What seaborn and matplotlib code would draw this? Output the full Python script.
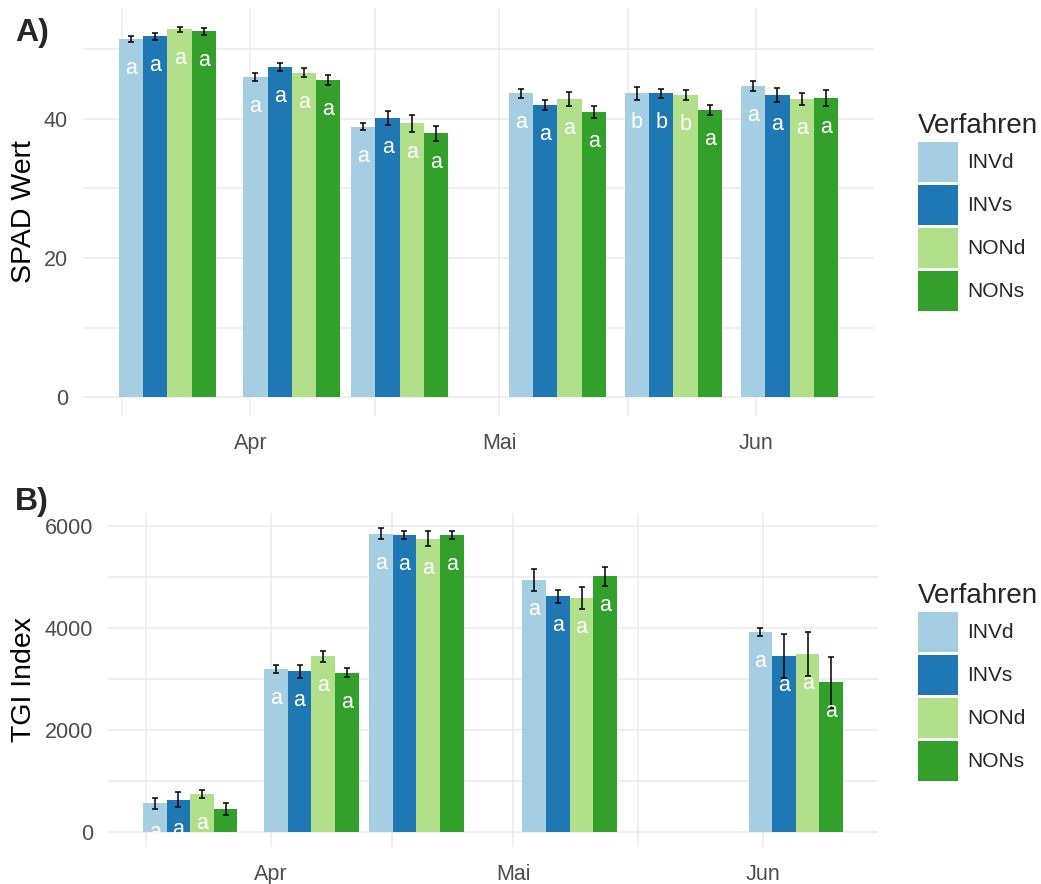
import matplotlib
matplotlib.use("Agg")
import matplotlib.pyplot as plt
import matplotlib.dates as mdates
import numpy as np
import pandas as pd
import seaborn as sns

# Verfahren und Farben (Paired)
verfahren = ["INVd", "INVs", "NONd", "NONs"]
farben = ["#A6CEE3", "#1F78B4", "#B2DF8A", "#33A02C"]

# A) SPAD Werte
spad_datum = ["2017-03-22", "2017-04-06", "2017-04-19", "2017-05-08", "2017-05-22", "2017-06-05"]
spad_INVd = [51.4, 46.0, 38.8, 43.6, 43.6, 44.7]
spad_INVs = [51.8, 47.4, 40.1, 42.0, 43.6, 43.4]
spad_NONd = [52.8, 46.6, 39.3, 42.8, 43.4, 42.8]
spad_NONs = [52.5, 45.5, 37.9, 40.9, 41.2, 43.0]
spad_se_INVd = [0.4, 0.6, 0.5, 0.7, 1.0, 0.7]
spad_se_INVs = [0.5, 0.55, 1.0, 0.7, 0.6, 1.0]
spad_se_NONd = [0.4, 0.7, 1.2, 1.0, 0.7, 0.8]
spad_se_NONs = [0.55, 0.75, 1.1, 0.85, 0.75, 1.15]
spad_bst_INVd = ["a", "a", "a", "a", "b", "a"]
spad_bst_INVs = ["a", "a", "a", "a", "b", "a"]
spad_bst_NONd = ["a", "a", "a", "a", "b", "a"]
spad_bst_NONs = ["a", "a", "a", "a", "a", "a"]

# B) TGI Index
tgi_datum = ["2017-03-22", "2017-04-06", "2017-04-19", "2017-05-08", "2017-06-05"]
tgi_INVd = [557, 3187, 5843, 4934, 3913]
tgi_INVs = [628, 3148, 5817, 4613, 3443]
tgi_NONd = [740, 3443, 5745, 4581, 3482]
tgi_NONs = [445, 3115, 5817, 5005, 2932]
tgi_se_INVd = [108, 78, 108, 209, 78]
tgi_se_INVs = [147, 131, 78, 121, 432]
tgi_se_NONd = [75, 108, 147, 222, 425]
tgi_se_NONs = [111, 88, 75, 193, 500]
tgi_bst_INVd = ["a", "a", "a", "a", "a"]
tgi_bst_INVs = ["a", "a", "a", "a", "a"]
tgi_bst_NONd = ["a", "a", "a", "a", "a"]
tgi_bst_NONs = ["a", "a", "a", "a", "a"]

# Monatsachse
monat_grenzen = ["2017-03-01", "2017-04-01", "2017-05-01", "2017-06-01", "2017-07-01"]
monate = ["Mär", "Apr", "Mai", "Jun", "Jul"]

sns.set_style("white")
plt.rcParams["font.family"] = ["Liberation Sans", "DejaVu Sans"]

GRID = "#EBEBEB"
TICK = "#4D4D4D"


def panel(ax, datum, werte, se, bst, ylabel, yticks, yminor, label_x):
    x = mdates.date2num(pd.to_datetime(datum))
    df = pd.DataFrame({
        "Datum": np.tile(x, len(verfahren)),
        "Verfahren": np.repeat(verfahren, len(x)),
        "Wert": np.concatenate([werte[v] for v in verfahren]),
    })
    sns.barplot(data=df, x="Datum", y="Wert", hue="Verfahren", hue_order=verfahren,
                palette=farben, native_scale=True, width=0.9, errorbar=None,
                saturation=1, linewidth=0, ax=ax)

    bar_conts = list(ax.containers)
    for v, cont in zip(verfahren, bar_conts):
        bars = sorted(cont.patches, key=lambda b: b.get_x())
        xs = [b.get_x() + b.get_width() / 2 for b in bars]
        hs = [b.get_height() for b in bars]
        ax.errorbar(xs, hs, yerr=se[v], fmt="none", ecolor="black",
                    elinewidth=1.1, capsize=2.4, capthick=1.1, zorder=3)
        for xx, hh, t in zip(xs, hs, bst[v]):
            ax.annotate(t, (xx, hh), xytext=(0, -35), textcoords="offset pixels",
                        ha="center", va="baseline", color="white", fontsize=15.5, zorder=4)

    g = mdates.date2num(pd.to_datetime(monat_grenzen))
    ax.set_xticks(g, monate)
    ax.set_xticks((g[:-1] + g[1:]) / 2, minor=True)
    ax.set_yticks(yticks)
    ax.set_yticks(yminor, minor=True)

    # Grenzen wie ggplot (5% Erweiterung), nach den Ticks setzen
    res = np.min(np.diff(x))
    lo, hi = x.min() - 0.45 * res, x.max() + 0.45 * res
    ax.set_xlim(lo - 0.05 * (hi - lo), hi + 0.05 * (hi - lo))
    top = max(max(np.add(werte[v], se[v])) for v in verfahren)
    ax.set_ylim(-0.05 * top, 1.05 * top)

    ax.grid(True, which="both", color=GRID, linewidth=1.1)
    ax.set_axisbelow(True)
    for s in ax.spines.values():
        s.set_visible(False)
    ax.tick_params(which="both", length=0, labelsize=15.5, labelcolor=TICK)
    ax.tick_params(axis="y", pad=10.8)
    ax.tick_params(axis="x", pad=12)
    ax.set_xlabel("")
    ax.set_ylabel(ylabel, fontsize=20.5, color="black")
    ax.yaxis.set_label_coords(label_x, 0.5)


fig = plt.figure(figsize=(10.41, 8.84), dpi=100)
W, H = 1041, 884
axA = fig.add_axes([83 / W, 1 - 416 / H, 791 / W, 408 / H])
axB = fig.add_axes([108 / W, 1 - 847 / H, 770 / W, 334 / H])

panel(axA, spad_datum,
      {"INVd": spad_INVd, "INVs": spad_INVs, "NONd": spad_NONd, "NONs": spad_NONs},
      {"INVd": spad_se_INVd, "INVs": spad_se_INVs, "NONd": spad_se_NONd, "NONs": spad_se_NONs},
      {"INVd": spad_bst_INVd, "INVs": spad_bst_INVs, "NONd": spad_bst_NONd, "NONs": spad_bst_NONs},
      "SPAD Wert", [0, 20, 40], [10, 30, 50], (37 - 83) / 791)
panel(axB, tgi_datum,
      {"INVd": tgi_INVd, "INVs": tgi_INVs, "NONd": tgi_NONd, "NONs": tgi_NONs},
      {"INVd": tgi_se_INVd, "INVs": tgi_se_INVs, "NONd": tgi_se_NONd, "NONs": tgi_se_NONs},
      {"INVd": tgi_bst_INVd, "INVs": tgi_bst_INVs, "NONd": tgi_bst_NONd, "NONs": tgi_bst_NONs},
      "TGI Index", [0, 2000, 4000, 6000], [1000, 3000, 5000], (37 - 108) / 770)

for ax, ytop in [(axA, 113), (axB, 583)]:
    sns.move_legend(ax, "upper left", bbox_to_anchor=(918 / W, 1 - ytop / H),
                    bbox_transform=fig.transFigure, frameon=False, title="Verfahren",
                    fontsize=15, title_fontsize=20, handlelength=1.92, handleheight=2.58,
                    labelspacing=0.144, handletextpad=0.43, borderpad=0, borderaxespad=0,
                    alignment="left")

fig.text(15 / W, 1 - 41 / H, "A)", fontsize=23, fontweight="bold", va="baseline")
fig.text(15 / W, 1 - 510 / H, "B)", fontsize=23, fontweight="bold", va="baseline")

fig.savefig("out.png", dpi=100)
